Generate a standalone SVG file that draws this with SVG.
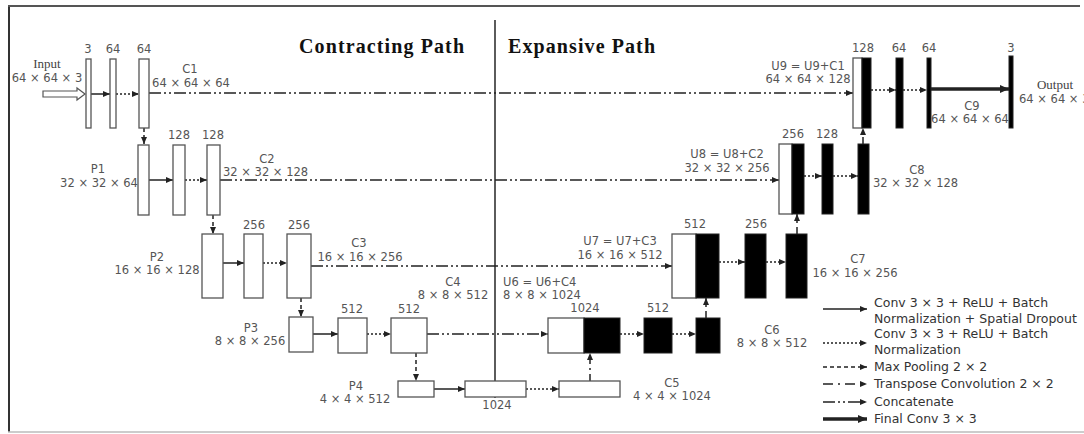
<svg xmlns="http://www.w3.org/2000/svg" width="1084" height="434" viewBox="0 0 1084 434">
<style>
.bg{fill:#fff}
.h{fill:#fff;stroke:#555;stroke-width:1.3}
.b{fill:#000;stroke:#222;stroke-width:1}
.t{font-family:"DejaVu Sans",Verdana,sans-serif;font-size:11.5px;fill:#555}
.m{text-anchor:middle}
.s{font-family:"Liberation Serif","Times New Roman",serif;font-size:13px;fill:#444}
.ti{font-family:"Liberation Serif","Times New Roman",serif;font-size:20px;font-weight:bold;fill:#111}
.lg{font-family:"DejaVu Sans",Verdana,sans-serif;font-size:12.5px;fill:#333}
.a{fill:none;stroke:#222;stroke-width:1.5}
.solid{marker-end:url(#ah)}
.dot{stroke-dasharray:2 2;marker-end:url(#ah)}
.dash{stroke-dasharray:4 3;marker-end:url(#ah)}
.tc{stroke-dasharray:7 4 2 4;marker-end:url(#ah)}
.cat{stroke-dasharray:12 3 2 3 2 3;stroke-width:1.3;marker-end:url(#ah)}
.thick{stroke-width:3.5;marker-end:url(#ahb)}
</style>
<defs>
<marker id="ah" markerUnits="userSpaceOnUse" markerWidth="8" markerHeight="8" refX="7" refY="3" orient="auto"><path d="M0,0 L7,3 L0,6 z" fill="#222"/></marker>
<marker id="ahb" markerUnits="userSpaceOnUse" markerWidth="10" markerHeight="10" refX="9" refY="4" orient="auto"><path d="M0,0 L9,4 L0,8 z" fill="#222"/></marker>
</defs>
<rect class="bg" x="0" y="0" width="1084" height="434"/>
<g id="frame">
<line x1="9" y1="5" x2="9" y2="432" stroke="#333" stroke-width="2"/>
<line x1="8" y1="6" x2="1080" y2="6" stroke="#555" stroke-width="2"/>
<line x1="8" y1="432" x2="1084" y2="432" stroke="#bbb" stroke-width="1.5"/>
<line x1="495" y1="20" x2="495" y2="398" stroke="#333" stroke-width="1.6"/>
</g>
<g id="titles">
<text class="ti" x="299" y="53" textLength="165">Contracting Path</text>
<text class="ti" x="508" y="53" textLength="147">Expansive Path</text>
</g>
<g id="connectors">
<path d="M43,91 L77,91 L77,88 L85,94 L77,100 L77,97 L43,97 Z" fill="#fff" stroke="#555" stroke-width="1.2"/>
<line class="a solid" x1="91" y1="94" x2="110" y2="94"/>
<line class="a dot" x1="116" y1="94" x2="139" y2="94"/>
<line class="a cat" x1="149" y1="93" x2="853" y2="93"/>
<line class="a dash" x1="144" y1="128" x2="144" y2="144"/>
<line class="a dot" x1="871" y1="90" x2="896" y2="90"/>
<line class="a dot" x1="903" y1="90" x2="927" y2="90"/>
<line class="a thick" x1="931" y1="89" x2="1009" y2="89"/>
<line class="a tc" x1="863" y1="144" x2="863" y2="128"/>
<line class="a solid" x1="149" y1="180" x2="173" y2="180"/>
<line class="a dot" x1="185" y1="180" x2="207" y2="180"/>
<line class="a cat" x1="220" y1="180" x2="779" y2="180"/>
<line class="a dash" x1="213" y1="215" x2="213" y2="234"/>
<line class="a dot" x1="804" y1="176" x2="822" y2="176"/>
<line class="a dot" x1="833" y1="176" x2="858" y2="176"/>
<line class="a tc" x1="797" y1="234" x2="797" y2="214"/>
<line class="a solid" x1="223" y1="263" x2="244" y2="263"/>
<line class="a dot" x1="263" y1="263" x2="287" y2="263"/>
<line class="a cat" x1="311" y1="266" x2="672" y2="266"/>
<line class="a dash" x1="301" y1="298" x2="301" y2="317"/>
<line class="a dot" x1="719" y1="262" x2="745" y2="262"/>
<line class="a dot" x1="766" y1="262" x2="786" y2="262"/>
<line class="a tc" x1="706" y1="318" x2="706" y2="298"/>
<line class="a solid" x1="313" y1="334" x2="338" y2="334"/>
<line class="a dot" x1="367" y1="334" x2="391" y2="334"/>
<line class="a cat" x1="427" y1="334" x2="548" y2="334"/>
<line class="a dash" x1="416" y1="353" x2="416" y2="381"/>
<line class="a dot" x1="620" y1="334" x2="644" y2="334"/>
<line class="a dot" x1="672" y1="334" x2="696" y2="334"/>
<line class="a tc" x1="590" y1="381" x2="590" y2="353"/>
<line class="a solid" x1="434" y1="389" x2="465" y2="389"/>
<line class="a dot" x1="526" y1="389" x2="559" y2="389"/>
</g>
<g id="input"><text class="s m" x="47" y="68">Input</text><text class="t m" x="47" y="82">64 × 64 × 3</text></g>
<g id="conv1a"><rect class="h" x="86" y="59" width="5" height="69"/><text class="t m" x="88" y="53">3</text></g>
<g id="conv1b"><rect class="h" x="110" y="59" width="6" height="69"/><text class="t m" x="113" y="53">64</text></g>
<g id="C1"><rect class="h" x="139" y="59" width="10" height="69"/><text class="t m" x="144" y="53">64</text><text class="t m" x="190" y="73">C1</text><text class="t m" x="191" y="87">64 × 64 × 64</text></g>
<g id="P1"><rect class="h" x="138" y="145" width="11" height="70"/><text class="t m" x="98" y="173">P1</text><text class="t m" x="99" y="187">32 × 32 × 64</text></g>
<g id="conv2a"><rect class="h" x="173" y="145" width="12" height="70"/><text class="t m" x="179" y="139">128</text></g>
<g id="C2"><rect class="h" x="207" y="145" width="13" height="70"/><text class="t m" x="213" y="139">128</text><text class="t m" x="267" y="163">C2</text><text class="t" x="223" y="176">32 × 32 × 128</text></g>
<g id="P2"><rect class="h" x="202" y="234" width="21" height="64"/><text class="t m" x="157" y="261">P2</text><text class="t m" x="157" y="274">16 × 16 × 128</text></g>
<g id="conv3a"><rect class="h" x="244" y="234" width="19" height="64"/><text class="t m" x="254" y="229">256</text></g>
<g id="C3"><rect class="h" x="287" y="234" width="24" height="64"/><text class="t m" x="299" y="229">256</text><text class="t m" x="359" y="247">C3</text><text class="t m" x="360" y="261">16 × 16 × 256</text></g>
<g id="P3"><rect class="h" x="289" y="317" width="24" height="35"/><text class="t m" x="251" y="332">P3</text><text class="t m" x="250" y="345">8 × 8 × 256</text></g>
<g id="conv4a"><rect class="h" x="338" y="318" width="29" height="35"/><text class="t m" x="352" y="313">512</text></g>
<g id="C4"><rect class="h" x="391" y="318" width="36" height="35"/><text class="t m" x="409" y="313">512</text><text class="t m" x="453" y="286">C4</text><text class="t m" x="453" y="299">8 × 8 × 512</text></g>
<g id="P4"><rect class="h" x="398" y="381" width="36" height="16"/><text class="t m" x="356" y="390">P4</text><text class="t m" x="355" y="403">4 × 4 × 512</text></g>
<g id="conv5a"><rect class="h" x="465" y="381" width="61" height="16"/><text class="t m" x="497" y="409">1024</text></g>
<g id="C5"><rect class="h" x="559" y="381" width="61" height="16"/><text class="t m" x="672" y="387">C5</text><text class="t m" x="672" y="400">4 × 4 × 1024</text></g>
<g id="U6"><rect class="h" x="548" y="318" width="36" height="35"/><rect class="b" x="584" y="318" width="36" height="35"/><text class="t m" x="585" y="312">1024</text><text class="t" x="503" y="286">U6 = U6+C4</text><text class="t" x="503" y="299">8 × 8 × 1024</text></g>
<g id="conv6a"><rect class="b" x="644" y="318" width="28" height="35"/><text class="t m" x="658" y="312">512</text></g>
<g id="C6"><rect class="b" x="696" y="318" width="24" height="35"/><text class="t m" x="772" y="334">C6</text><text class="t m" x="772" y="347">8 × 8 × 512</text></g>
<g id="U7"><rect class="h" x="672" y="234" width="24" height="64"/><rect class="b" x="696" y="234" width="23" height="64"/><text class="t m" x="695" y="228">512</text><text class="t m" x="620" y="245">U7 = U7+C3</text><text class="t m" x="620" y="259">16 × 16 × 512</text></g>
<g id="conv7a"><rect class="b" x="745" y="234" width="21" height="64"/><text class="t m" x="756" y="228">256</text></g>
<g id="C7"><rect class="b" x="786" y="234" width="21" height="64"/><text class="t m" x="858" y="263">C7</text><text class="t m" x="855" y="277">16 × 16 × 256</text></g>
<g id="U8"><rect class="h" x="779" y="144" width="13" height="70"/><rect class="b" x="792" y="144" width="12" height="70"/><text class="t m" x="793" y="138">256</text><text class="t m" x="727" y="158">U8 = U8+C2</text><text class="t m" x="727" y="172">32 × 32 × 256</text></g>
<g id="conv8a"><rect class="b" x="822" y="144" width="11" height="70"/><text class="t m" x="827" y="138">128</text></g>
<g id="C8"><rect class="b" x="858" y="144" width="11" height="70"/><text class="t m" x="917" y="174">C8</text><text class="t" x="873" y="187">32 × 32 × 128</text></g>
<g id="U9"><rect class="h" x="853" y="58" width="9" height="70"/><rect class="b" x="862" y="58" width="9" height="70"/><text class="t m" x="863" y="52">128</text><text class="t m" x="808" y="70">U9 = U9+C1</text><text class="t m" x="808" y="83">64 × 64 × 128</text></g>
<g id="conv9a"><rect class="b" x="896" y="58" width="7" height="70"/><text class="t m" x="899" y="52">64</text></g>
<g id="C9"><rect class="b" x="927" y="58" width="4" height="70"/><text class="t m" x="929" y="52">64</text><text class="t m" x="972" y="110">C9</text><text class="t m" x="970" y="123">64 × 64 × 64</text></g>
<g id="output"><rect class="b" x="1009" y="56" width="4" height="72"/><text class="t m" x="1011" y="52">3</text><text class="s m" x="1055" y="89">Output</text><text class="t" x="1019" y="103">64 × 64 × 3</text></g>
<g id="legend">
<line class="a solid" x1="823" y1="309" x2="867" y2="309"/>
<text class="lg" x="874" y="307">Conv 3 × 3 + ReLU + Batch</text>
<text class="lg" x="874" y="323">Normalization + Spatial Dropout</text>
<line class="a dot" x1="823" y1="343" x2="867" y2="343"/>
<text class="lg" x="874" y="338">Conv 3 × 3 + ReLU + Batch</text>
<text class="lg" x="874" y="354">Normalization</text>
<line class="a dash" x1="823" y1="367" x2="867" y2="367"/>
<text class="lg" x="874" y="371">Max Pooling 2 × 2</text>
<line class="a" style="stroke-dasharray:10 5 2 5;marker-end:url(#ah)" x1="823" y1="384" x2="867" y2="384"/>
<text class="lg" x="874" y="388">Transpose Convolution 2 × 2</text>
<line class="a cat" x1="823" y1="402" x2="867" y2="402"/>
<text class="lg" x="874" y="406">Concatenate</text>
<line class="a thick" x1="823" y1="419" x2="867" y2="419"/>
<text class="lg" x="874" y="423">Final Conv 3 × 3</text>
</g>
</svg>
